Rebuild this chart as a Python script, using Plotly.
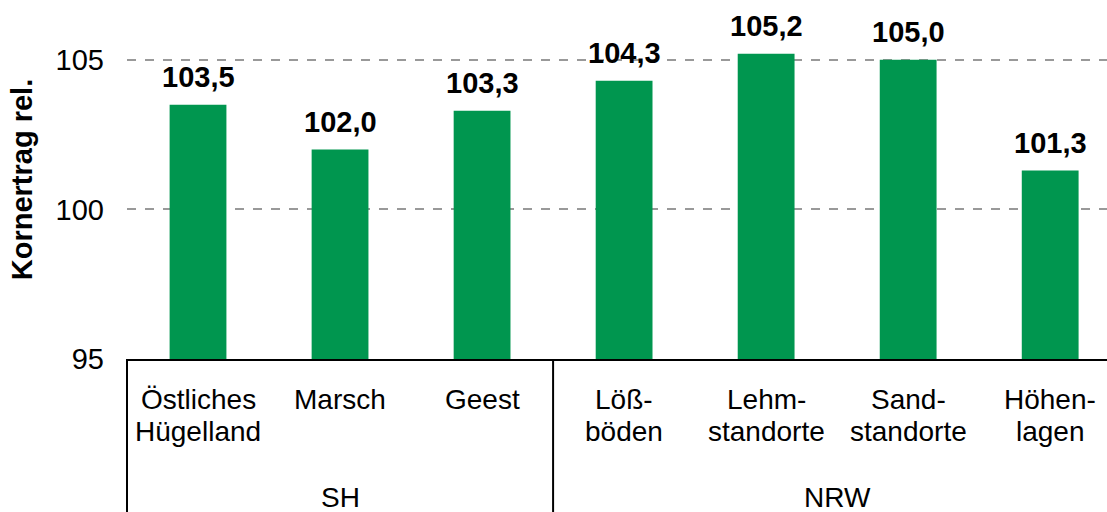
import plotly.graph_objects as go

categories = ["Östliches<br>Hügelland", "Marsch", "Geest", "Löß-<br>böden",
              "Lehm-<br>standorte", "Sand-<br>standorte", "Höhen-<br>lagen"]
values = [103.5, 102.0, 103.3, 104.3, 105.2, 105.0, 101.3]
labels = ["103,5", "102,0", "103,3", "104,3", "105,2", "105,0", "101,3"]
groups = ["SH", "NRW"]
group_sizes = [3, 4]
y_ticks = [95, 100, 105]

FONT = "Arial, Liberation Sans, sans-serif"
FS = 28
FSB = 29
GREEN = "#00964F"
xr = [-0.5, 6.4]
yr = [95, 107]
PLOT_H = 359

x = list(range(len(categories)))
fig = go.Figure(go.Bar(x=x, y=values, width=0.4, marker=dict(color=GREEN, line=dict(width=0)),
                       hoverinfo="skip"))

ann = []
for i, (v, t) in enumerate(zip(values, labels)):
    ann.append(dict(x=i, y=v, xref="x", yref="y", text="<b>%s</b>" % t, showarrow=False,
                    yanchor="bottom", yshift=10, font=dict(family=FONT, size=FSB, color="#000")))
for i, c in enumerate(categories):
    for j, line in enumerate(c.split("<br>")):
        ann.append(dict(x=i, y=0, xref="x", yref="paper", text=line, showarrow=False,
                        yanchor="top", yshift=-23 - 32 * j,
                        font=dict(family=FONT, size=FS, color="#000")))

def px(xv):
    return (xv - xr[0]) / (xr[1] - xr[0])

shapes = []
start = 0
bounds = [-0.5]
for g, n in zip(groups, group_sizes):
    center = start + (n - 1) / 2
    ann.append(dict(x=center, y=0, xref="x", yref="paper", text=g, showarrow=False,
                    yanchor="top", yshift=-121, font=dict(family=FONT, size=FS, color="#000")))
    start += n
    bounds.append(start - 0.5)
for b in bounds:
    if b <= xr[1]:
        shapes.append(dict(type="line", xref="paper", yref="paper", x0=px(b), x1=px(b),
                           y0=0, y1=-0.5, line=dict(color="#000", width=2)))

fig.update_layout(
    width=1107, height=512,
    margin=dict(l=127, r=0, t=0, b=512 - PLOT_H),
    plot_bgcolor="white", paper_bgcolor="white",
    showlegend=False,
    annotations=ann, shapes=shapes,
    xaxis=dict(range=xr, showticklabels=False, ticks="", showgrid=False, zeroline=False,
               showline=True, linecolor="#000", linewidth=2, automargin=False),
    yaxis=dict(range=yr, tickvals=y_ticks, ticks="", showline=False, zeroline=False,
               showgrid=True, gridcolor="#999", griddash="dash", gridwidth=1.5,
               automargin=False,
               tickfont=dict(family=FONT, size=FSB, color="#000"), ticklabelstandoff=22,
               title=dict(text="<b>Kornertrag rel.</b>", standoff=14,
                          font=dict(family=FONT, size=FSB, color="#000"))),
)
fig.write_html("out.html", config={"displayModeBar": False},
               post_script="document.body.style.margin='0';")
